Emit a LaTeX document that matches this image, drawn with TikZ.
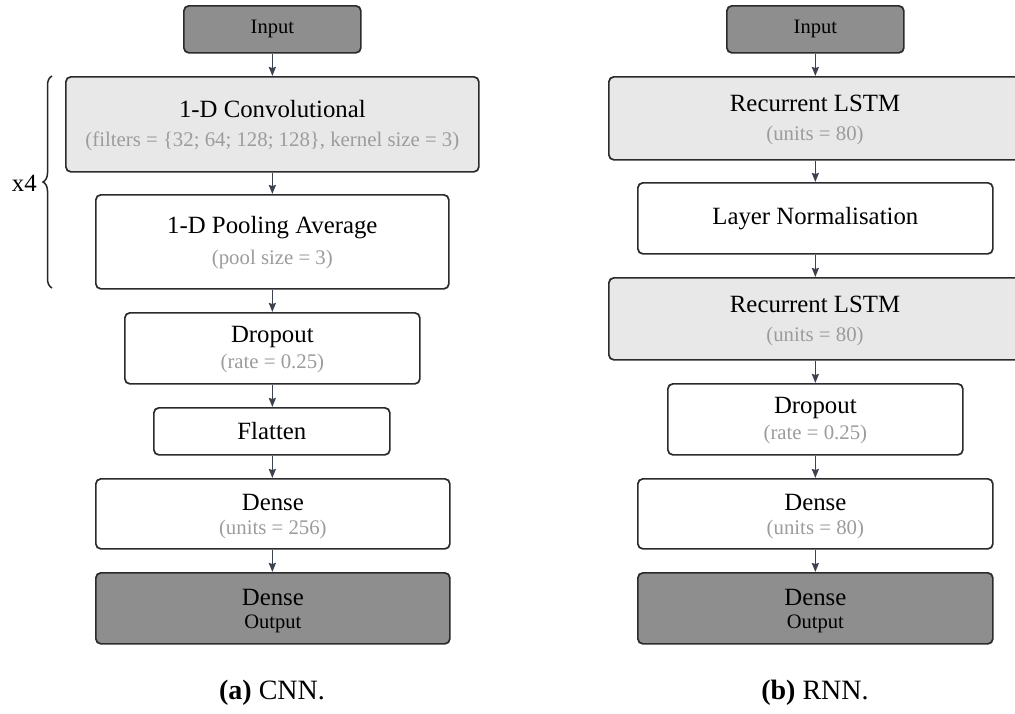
\documentclass[tikz,border=0pt]{standalone}
\usepackage{fontspec}
\setmainfont{Liberation Serif}
\usetikzlibrary{arrows.meta,decorations.pathreplacing,calc}

\definecolor{boxedge}{HTML}{2B2B2B}
\definecolor{darkfill}{HTML}{8E8E8E}
\definecolor{lightfill}{HTML}{E8E8E8}
\definecolor{subgray}{HTML}{9C9C9C}
\definecolor{arrowcol}{HTML}{3C4250}

\tikzset{
  layer/.style={draw=boxedge, line width=1.7pt, rounded corners=5pt, inner sep=0pt, anchor=north west},
  plainlayer/.style={layer, fill=white},
  greylayer/.style={layer, fill=lightfill},
  darklayer/.style={layer, fill=darkfill},
  maintext/.style={font=\fontsize{24.8}{27}\selectfont, text=black, inner sep=0pt},
  subtext/.style={font=\fontsize{20.8}{23}\selectfont, text=subgray, inner sep=0pt},
  smalltext/.style={font=\fontsize{20.5}{23}\selectfont, text=black, inner sep=0pt},
  captext/.style={font=\fontsize{28}{30}\selectfont, text=black, inner sep=0pt},
  flow/.style={draw=arrowcol, line width=1.6pt, -{Stealth[length=9pt,width=7pt,inset=1pt]}},
}

% \layerbox{name}{style}{left}{top}{right}{bottom}
\newcommand{\layerbox}[6]{%
  \node[#2, minimum width={#5-#3}, minimum height={#6-#4}] (#1) at (#3,#4) {};}

\begin{document}
\begin{tikzpicture}[x=1pt,y=-1pt]
\useasboundingbox (0,0) rectangle (1015,713);

% ---------------- CNN ----------------
\layerbox{cin}{darklayer}{183}{5}{360}{52}
\node[smalltext] (cinT) at (cin.center) {Input};

\layerbox{conv}{greylayer}{65}{76}{478}{171}
\node[maintext] (convT) at ($(conv.center)+(0,-15)$) {1-D Convolutional};
\node[subtext] (convS) at ($(conv.center)+(0,17)$) {(filters = \{32; 64; 128; 128\}, kernel size = 3)};

\layerbox{pool}{plainlayer}{95}{194}{448}{288}
\node[maintext] (poolT) at ($(pool.center)+(0,-14)$) {1-D Pooling Average};
\node[subtext] (poolS) at ($(pool.center)+(0,18)$) {(pool size = 3)};

\layerbox{cdrop}{plainlayer}{124}{312}{419}{383}
\node[maintext] (cdropT) at ($(cdrop.center)+(0,-11)$) {Dropout};
\node[subtext] (cdropS) at ($(cdrop.center)+(0,15)$) {(rate = 0.25)};

\layerbox{flat}{plainlayer}{153}{407}{389}{454}
\node[maintext] (flatT) at (flat.center) {Flatten};

\layerbox{cdense}{plainlayer}{95}{478}{449}{548}
\node[maintext] (cdenseT) at ($(cdense.center)+(0,-11)$) {Dense};
\node[subtext] (cdenseS) at ($(cdense.center)+(0,16)$) {(units = 256)};

\layerbox{cout}{darklayer}{95}{572}{449}{643}
\node[maintext] (coutT) at ($(cout.center)+(0,-11)$) {Dense};
\node[smalltext] (coutS) at ($(cout.center)+(0,16)$) {Output};

\draw[flow] (cin.south) -- (cin.south |- conv.north);
\draw[flow] (conv.south -| cin.south) -- (cin.south |- pool.north);
\draw[flow] (pool.south -| cin.south) -- (cin.south |- cdrop.north);
\draw[flow] (cdrop.south -| cin.south) -- (cin.south |- flat.north);
\draw[flow] (flat.south -| cin.south) -- (cin.south |- cdense.north);
\draw[flow] (cdense.south -| cin.south) -- (cin.south |- cout.north);

% repeated block marker
\coordinate (braceBot) at (52,288);
\coordinate (braceTop) at (52,76);
\draw[black!85, line width=1.5pt, decorate, decoration={brace, amplitude=9pt}]
  (braceBot) -- (braceTop);
\node[maintext, anchor=east] (rep) at (37,183) {x4};

\node[captext] (capA) at (272,693) {\textbf{(a)} CNN.};

% ---------------- RNN ----------------
\layerbox{rin}{darklayer}{726}{5}{903}{52}
\node[smalltext] (rinT) at (rin.center) {Input};

\layerbox{lstmA}{greylayer}{608}{76}{1022}{159}
\node[maintext] (lstmAT) at ($(815,117.5)+(0,-14)$) {Recurrent LSTM};
\node[subtext] (lstmAS) at ($(815,117.5)+(0,18)$) {(units = 80)};

\layerbox{norm}{plainlayer}{637}{182}{992}{253}
\node[maintext] (normT) at (norm.center) {Layer Normalisation};

\layerbox{lstmB}{greylayer}{608}{277}{1022}{359}
\node[maintext] (lstmBT) at ($(815,318)+(0,-14)$) {Recurrent LSTM};
\node[subtext] (lstmBS) at ($(815,318)+(0,18)$) {(units = 80)};

\layerbox{rdrop}{plainlayer}{667}{383}{962}{454}
\node[maintext] (rdropT) at ($(rdrop.center)+(0,-11)$) {Dropout};
\node[subtext] (rdropS) at ($(rdrop.center)+(0,15)$) {(rate = 0.25)};

\layerbox{rdense}{plainlayer}{637}{478}{992}{548}
\node[maintext] (rdenseT) at ($(rdense.center)+(0,-11)$) {Dense};
\node[subtext] (rdenseS) at ($(rdense.center)+(0,16)$) {(units = 80)};

\layerbox{rout}{darklayer}{637}{572}{992}{643}
\node[maintext] (routT) at ($(rout.center)+(0,-11)$) {Dense};
\node[smalltext] (routS) at ($(rout.center)+(0,16)$) {Output};

\draw[flow] (rin.south) -- (rin.south |- lstmA.north);
\draw[flow] (lstmA.south -| rin.south) -- (rin.south |- norm.north);
\draw[flow] (norm.south -| rin.south) -- (rin.south |- lstmB.north);
\draw[flow] (lstmB.south -| rin.south) -- (rin.south |- rdrop.north);
\draw[flow] (rdrop.south -| rin.south) -- (rin.south |- rdense.north);
\draw[flow] (rdense.south -| rin.south) -- (rin.south |- rout.north);

\node[captext] (capB) at (815,693) {\textbf{(b)} RNN.};
\end{tikzpicture}
\end{document}
